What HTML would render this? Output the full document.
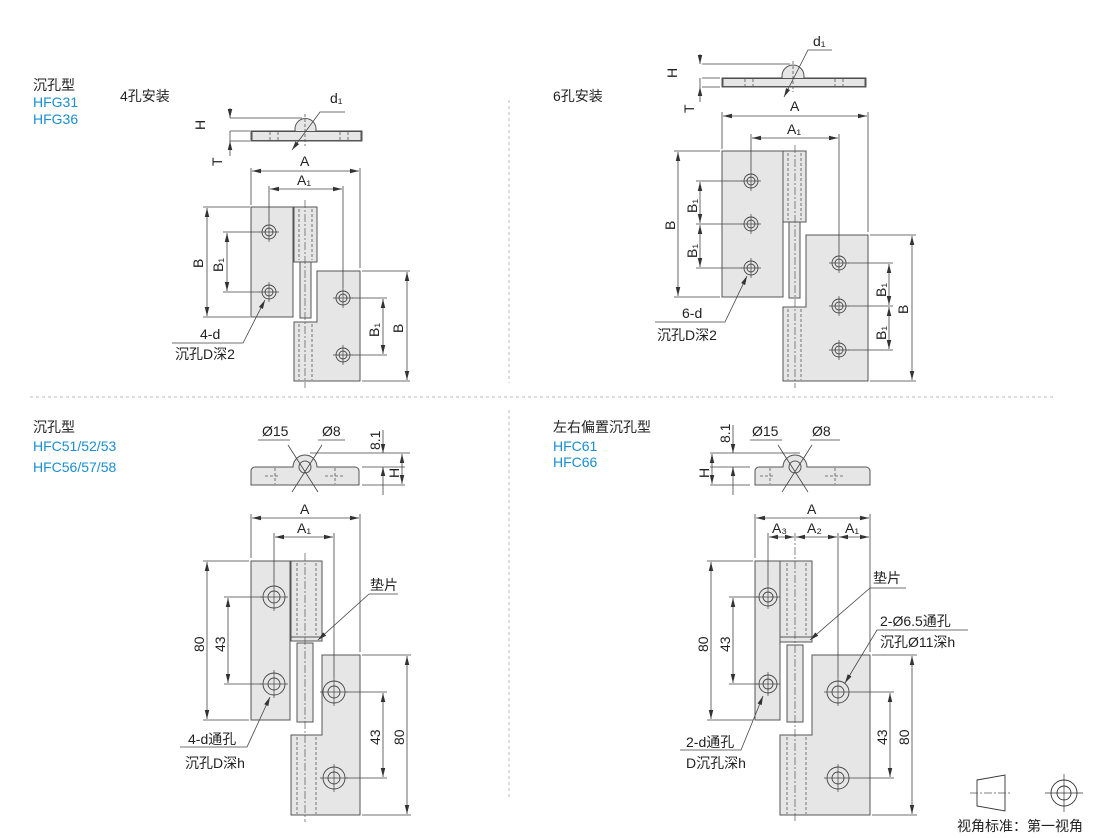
<!DOCTYPE html>
<html><head><meta charset="utf-8"><style>
body{margin:0;background:#fff;}
svg{display:block;font-family:"Liberation Sans","Noto Sans CJK SC",sans-serif;}
.t{font-size:14px;fill:#222;}
.b{font-size:14px;fill:#1a8ed0;}
.ln{stroke:#444;stroke-width:0.8;fill:none;}
.dl{stroke:#555;stroke-width:0.8;fill:none;stroke-dasharray:3 2;}
.ca{stroke:#555;stroke-width:0.7;fill:none;stroke-dasharray:8 2 2 2;}
.pl{fill:#e6e6e6;stroke:#555;stroke-width:1;}
.sep{stroke:#bbb;stroke-width:1;stroke-dasharray:3 3;fill:none;}
</style></head><body>
<svg width="1110" height="838" viewBox="0 0 1110 838" xmlns="http://www.w3.org/2000/svg">
<defs>
<marker id="a" viewBox="0 0 10 10" refX="10" refY="5" markerUnits="userSpaceOnUse" markerWidth="9" markerHeight="9" orient="auto-start-reverse"><path d="M0,2.5 L10,5 L0,7.5 z" fill="#333"/></marker>
<g id="h1"><circle r="7" fill="none" stroke="#444" stroke-width="0.9"/><circle r="4" fill="none" stroke="#444" stroke-width="0.9"/><path d="M-10,0H10M0,-10V10" stroke="#444" stroke-width="0.7"/></g>
<g id="h2"><circle r="11" fill="none" stroke="#444" stroke-width="0.9"/><circle r="6" fill="none" stroke="#444" stroke-width="0.9"/><path d="M-14,0H14M0,-14V14" stroke="#444" stroke-width="0.7"/></g>
<g id="h3"><circle r="9" fill="none" stroke="#444" stroke-width="0.9"/><circle r="5" fill="none" stroke="#444" stroke-width="0.9"/><path d="M-12,0H12M0,-12V12" stroke="#444" stroke-width="0.7"/></g>
</defs>

<path class="sep" d="M509,100V383M30,397H1056M509,410V800"/>

<!-- ===== Panel 1 ===== -->
<text class="t" x="33" y="90">沉孔型</text>
<text class="b" x="33" y="107">HFG31</text>
<text class="b" x="33" y="124">HFG36</text>
<text class="t" x="120" y="101">4孔安装</text>
<path class="pl" d="M251,131H295A11,11 0 0 1 316,131H362V141H251Z"/>
<circle cx="305.5" cy="129" r="10.5" class="pl"/>
<path class="pl" stroke="none" d="M252,131.5H361V140.5H252Z"/>
<path class="ln" d="M251,131H295M316,131H362"/>
<path class="dl" d="M270,132V140M278,132V140M340,132V140M348,132V140M305,114V146"/>
<path class="ln" d="M230,118H302M230,131H250M230,141H250"/>
<path class="ln" d="M230,108V118" marker-end="url(#a)"/>
<path class="ln" d="M230,131V141"/>
<path class="ln" d="M230,156V141" marker-end="url(#a)"/>
<text class="t" transform="translate(205,130) rotate(-90)">H</text>
<text class="t" transform="translate(222,166) rotate(-90)">T</text>
<path class="ln" d="M345,112H320L292,150" marker-end="url(#a)"/>
<text class="t" x="330" y="103">d₁</text>
<path class="pl" d="M251,207H293V317H251Z"/>
<rect class="pl" x="294" y="207" width="23" height="55"/>
<rect class="pl" x="300" y="262" width="11" height="56"/>
<path class="pl" d="M317,271H360V381H294V322H317Z"/>
<path class="dl" d="M299,209V260M312,209V260M299,324V380M312,324V380"/>
<path class="ca" d="M305,200V388"/>
<use href="#h1" x="269" y="232"/><use href="#h1" x="269" y="292"/>
<use href="#h1" x="343" y="298"/><use href="#h1" x="343" y="355"/>
<path class="ln" d="M251,168V205M360,168V268M269,186V222M343,186V288"/>
<path class="ln" d="M252,171H359" marker-start="url(#a)" marker-end="url(#a)"/>
<text class="t" x="300" y="166">A</text>
<path class="ln" d="M270,189H342" marker-start="url(#a)" marker-end="url(#a)"/>
<text class="t" x="297" y="185">A₁</text>
<path class="ln" d="M203,207H250M203,317H250M223,232H260M223,292H260"/>
<path class="ln" d="M207,208V316" marker-start="url(#a)" marker-end="url(#a)"/>
<path class="ln" d="M227,233V291" marker-start="url(#a)" marker-end="url(#a)"/>
<text class="t" transform="translate(203,268) rotate(-90)">B</text>
<text class="t" transform="translate(223,272) rotate(-90)">B₁</text>
<path class="ln" d="M362,271H410M362,381H410M352,298H387M352,355H387"/>
<path class="ln" d="M407,272V380" marker-start="url(#a)" marker-end="url(#a)"/>
<path class="ln" d="M383,299V354" marker-start="url(#a)" marker-end="url(#a)"/>
<text class="t" transform="translate(403,333) rotate(-90)">B</text>
<text class="t" transform="translate(379,337) rotate(-90)">B₁</text>
<path class="ln" d="M172,343H243L265,300" marker-end="url(#a)"/>
<text class="t" x="200" y="339">4-d</text>
<text class="t" x="175" y="359">沉孔D深2</text>

<!-- ===== Panel 2 ===== -->
<text class="t" x="553" y="101">6孔安装</text>
<path class="pl" d="M722,78H782A11,11 0 0 1 804,78H866V87H722Z"/>
<circle cx="793" cy="76" r="11" class="pl"/>
<path class="pl" stroke="none" d="M723,78.5H865V86.5H723Z"/>
<path class="ln" d="M722,78H782M804,78H866"/>
<path class="dl" d="M745,79V86M753,79V86M835,79V86M843,79V86M793,61V92"/>
<path class="ln" d="M702,64H790M702,78H720M702,87H720"/>
<path class="ln" d="M700,54V64" marker-end="url(#a)"/>
<path class="ln" d="M700,78V87"/>
<path class="ln" d="M700,102V87" marker-end="url(#a)"/>
<text class="t" transform="translate(677,78) rotate(-90)">H</text>
<text class="t" transform="translate(694,113) rotate(-90)">T</text>
<path class="ln" d="M832,50H808L784,97" marker-end="url(#a)"/>
<text class="t" x="813" y="46">d₁</text>
<path class="pl" d="M722,151H783V297H722Z"/>
<rect class="pl" x="783" y="151" width="23" height="71"/>
<rect class="pl" x="789" y="222" width="11" height="76"/>
<path class="pl" d="M806,235H868V381H783V307H806Z"/>
<path class="dl" d="M788,153V220M801,153V220M788,309V380M801,309V380"/>
<path class="ca" d="M795,145V388"/>
<use href="#h1" x="751" y="181"/><use href="#h1" x="751" y="224"/><use href="#h1" x="751" y="268"/>
<use href="#h1" x="839" y="263"/><use href="#h1" x="839" y="306"/><use href="#h1" x="839" y="350"/>
<path class="ln" d="M722,112V149M868,112V232M751,134V171M839,134V253"/>
<path class="ln" d="M723,116H867" marker-start="url(#a)" marker-end="url(#a)"/>
<text class="t" x="790" y="111">A</text>
<path class="ln" d="M752,138H838" marker-start="url(#a)" marker-end="url(#a)"/>
<text class="t" x="787" y="134">A₁</text>
<path class="ln" d="M674,151H720M674,297H720M696,181H742M696,224H742M696,268H742"/>
<path class="ln" d="M678,152V296" marker-start="url(#a)" marker-end="url(#a)"/>
<path class="ln" d="M700,182V223" marker-start="url(#a)" marker-end="url(#a)"/>
<path class="ln" d="M700,225V267" marker-start="url(#a)" marker-end="url(#a)"/>
<text class="t" transform="translate(675,230) rotate(-90)">B</text>
<text class="t" transform="translate(697,213) rotate(-90)">B₁</text>
<text class="t" transform="translate(697,258) rotate(-90)">B₁</text>
<path class="ln" d="M870,235H916M870,381H916M848,263H893M848,306H893M848,350H893"/>
<path class="ln" d="M912,236V380" marker-start="url(#a)" marker-end="url(#a)"/>
<path class="ln" d="M889,264V305" marker-start="url(#a)" marker-end="url(#a)"/>
<path class="ln" d="M889,307V349" marker-start="url(#a)" marker-end="url(#a)"/>
<text class="t" transform="translate(908,314) rotate(-90)">B</text>
<text class="t" transform="translate(886,297) rotate(-90)">B₁</text>
<text class="t" transform="translate(886,340) rotate(-90)">B₁</text>
<path class="ln" d="M655,322H725L747,276" marker-end="url(#a)"/>
<text class="t" x="682" y="318">6-d</text>
<text class="t" x="657" y="340">沉孔D深2</text>

<!-- ===== Panel 3 ===== -->
<text class="t" x="33" y="432">沉孔型</text>
<text class="b" x="33" y="451">HFC51/52/53</text>
<text class="b" x="33" y="472">HFC56/57/58</text>
<path class="pl" d="M255,467H293A12,12 0 0 1 317,467H355A4,4 0 0 1 359,471V485H251V471A4,4 0 0 1 255,467Z"/>
<circle cx="305" cy="467" r="6" fill="none" stroke="#555"/>
<path class="dl" d="M265,476H280M325,476H345M275,468V484M335,468V484"/>
<path class="ln" d="M288,445L318,492M322,445L292,492"/>
<path class="ln" d="M258,440H290M318,440H345"/>
<text class="t" x="262" y="436">Ø15</text>
<text class="t" x="322" y="436">Ø8</text>
<path class="ln" d="M310,453H410M362,467H405M362,485H405"/>
<path class="ln" d="M383,430V453" marker-end="url(#a)"/>
<path class="ln" d="M383,495V467" marker-end="url(#a)"/>
<path class="ln" d="M402,454V484" marker-start="url(#a)" marker-end="url(#a)"/>
<text class="t" transform="translate(380,450) rotate(-90)">8.1</text>
<text class="t" transform="translate(399,478) rotate(-90)">H</text>
<path class="pl" d="M251,561H290V720H251Z"/>
<rect class="pl" x="291" y="561" width="31" height="76"/>
<rect class="pl" x="291" y="637" width="31" height="4"/>
<rect class="pl" x="297" y="643" width="16" height="79"/>
<path class="pl" d="M322,655H360V815H291V735H322Z"/>
<path class="dl" d="M297,563V635M316,563V635M297,737V814M316,737V814"/>
<path class="ca" d="M305,553V822"/>
<use href="#h2" x="274" y="597"/><use href="#h2" x="274" y="684"/>
<use href="#h2" x="334" y="692"/><use href="#h2" x="334" y="778"/>
<path class="ln" d="M251,514V558M360,514V652M274,533V583M334,533V678"/>
<path class="ln" d="M252,518H359" marker-start="url(#a)" marker-end="url(#a)"/>
<text class="t" x="300" y="514">A</text>
<path class="ln" d="M275,537H333" marker-start="url(#a)" marker-end="url(#a)"/>
<text class="t" x="297" y="533">A₁</text>
<path class="ln" d="M203,561H249M203,720H249M224,597H262M224,684H262"/>
<path class="ln" d="M207,562V719" marker-start="url(#a)" marker-end="url(#a)"/>
<path class="ln" d="M228,598V683" marker-start="url(#a)" marker-end="url(#a)"/>
<text class="t" transform="translate(204,652) rotate(-90)">80</text>
<text class="t" transform="translate(225,652) rotate(-90)">43</text>
<path class="ln" d="M362,655H411M362,815H411M346,692H387M346,778H387"/>
<path class="ln" d="M407,656V814" marker-start="url(#a)" marker-end="url(#a)"/>
<path class="ln" d="M383,693V777" marker-start="url(#a)" marker-end="url(#a)"/>
<text class="t" transform="translate(404,745) rotate(-90)">80</text>
<text class="t" transform="translate(380,745) rotate(-90)">43</text>
<path class="ln" d="M398,594H369L318,640" marker-end="url(#a)"/>
<text class="t" x="370" y="590">垫片</text>
<path class="ln" d="M180,747H247L270,697" marker-end="url(#a)"/>
<text class="t" x="188" y="744">4-d通孔</text>
<text class="t" x="185" y="768">沉孔D深h</text>

<!-- ===== Panel 4 ===== -->
<text class="t" x="553" y="432">左右偏置沉孔型</text>
<text class="b" x="553" y="451">HFC61</text>
<text class="b" x="553" y="467">HFC66</text>
<path class="pl" d="M759,467H783A12,12 0 0 1 807,467H866A4,4 0 0 1 870,471V485H755V471A4,4 0 0 1 759,467Z"/>
<circle cx="795" cy="467" r="6" fill="none" stroke="#555"/>
<path class="dl" d="M760,476H775M825,476H845M770,468V484M835,468V484"/>
<path class="ln" d="M778,445L808,492M812,445L782,492"/>
<path class="ln" d="M750,440H782M810,440H840"/>
<text class="t" x="752" y="436">Ø15</text>
<text class="t" x="812" y="436">Ø8</text>
<path class="ln" d="M710,453H800M710,467H750M710,485H750"/>
<path class="ln" d="M733,425V453" marker-end="url(#a)"/>
<path class="ln" d="M733,495V467" marker-end="url(#a)"/>
<path class="ln" d="M712,454V484" marker-start="url(#a)" marker-end="url(#a)"/>
<text class="t" transform="translate(730,443) rotate(-90)">8.1</text>
<text class="t" transform="translate(709,478) rotate(-90)">H</text>
<path class="pl" d="M755,561H780V720H755Z"/>
<rect class="pl" x="780" y="561" width="32" height="76"/>
<rect class="pl" x="780" y="637" width="32" height="5"/>
<rect class="pl" x="787" y="645" width="16" height="77"/>
<path class="pl" d="M812,655H870V815H780V735H812Z"/>
<path class="dl" d="M787,563V635M806,563V635M787,737V814M806,737V814"/>
<path class="ca" d="M795,533V822"/>
<use href="#h3" x="768" y="597"/><use href="#h3" x="768" y="684"/>
<use href="#h2" x="838" y="692"/><use href="#h2" x="838" y="778"/>
<path class="ln" d="M755,514V558M870,514V652M768,533V585M838,533V678"/>
<path class="ln" d="M756,518H869" marker-start="url(#a)" marker-end="url(#a)"/>
<text class="t" x="807" y="514">A</text>
<path class="ln" d="M769,537H794" marker-start="url(#a)" marker-end="url(#a)"/>
<path class="ln" d="M796,537H837" marker-start="url(#a)" marker-end="url(#a)"/>
<path class="ln" d="M839,537H869" marker-start="url(#a)" marker-end="url(#a)"/>
<text class="t" x="772" y="533">A₃</text>
<text class="t" x="807" y="533">A₂</text>
<text class="t" x="845" y="533">A₁</text>
<path class="ln" d="M707,561H753M707,720H753M729,597H758M729,684H758"/>
<path class="ln" d="M711,562V719" marker-start="url(#a)" marker-end="url(#a)"/>
<path class="ln" d="M733,598V683" marker-start="url(#a)" marker-end="url(#a)"/>
<text class="t" transform="translate(708,652) rotate(-90)">80</text>
<text class="t" transform="translate(730,652) rotate(-90)">43</text>
<path class="ln" d="M872,655H917M872,815H917M852,692H894M852,778H894"/>
<path class="ln" d="M912,656V814" marker-start="url(#a)" marker-end="url(#a)"/>
<path class="ln" d="M890,693V777" marker-start="url(#a)" marker-end="url(#a)"/>
<text class="t" transform="translate(909,745) rotate(-90)">80</text>
<text class="t" transform="translate(887,745) rotate(-90)">43</text>
<path class="ln" d="M906,588H870L810,640" marker-end="url(#a)"/>
<text class="t" x="873" y="583">垫片</text>
<path class="ln" d="M968,630H877L845,683" marker-end="url(#a)"/>
<text class="t" x="880" y="626">2-Ø6.5通孔</text>
<text class="t" x="880" y="647">沉孔Ø11深h</text>
<path class="ln" d="M680,750H741L763,696" marker-end="url(#a)"/>
<text class="t" x="686" y="747">2-d通孔</text>
<text class="t" x="686" y="768">D沉孔深h</text>

<path d="M977,780L1005,775V811L977,806Z" fill="none" stroke="#333" stroke-width="0.9"/>
<path d="M970,793H1012" class="ca"/>
<circle cx="1064" cy="793" r="13" fill="none" stroke="#333" stroke-width="0.9"/>
<circle cx="1064" cy="793" r="7" fill="none" stroke="#333" stroke-width="0.9"/>
<path d="M1045,793H1083M1064,774V812" stroke="#333" stroke-width="0.7"/>
<text class="t" x="957" y="831">视角标准：第一视角</text>
</svg>
</body></html>
